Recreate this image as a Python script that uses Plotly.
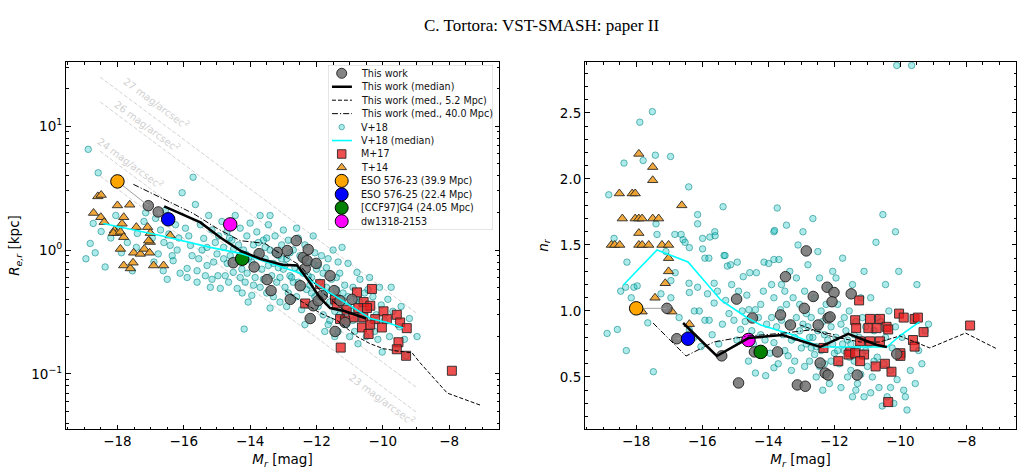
import plotly.graph_objects as go
import numpy as np

# ---------------- data ----------------
# This work (left: Re [kpc], right: n)
tw_left = [(-17.07, 2.28), (-16.77, 2.03), (-14.51, 0.79), (-13.73, 0.935), (-13.88, 0.73),
           (-13.49, 0.577), (-13.37, 0.47), (-13.18, 0.955), (-12.88, 0.99), (-12.61, 1.19),
           (-12.40, 0.87), (-12.34, 0.71), (-12.25, 1.01), (-12.28, 0.82), (-12.01, 0.78),
           (-12.79, 0.40), (-12.10, 0.355), (-12.19, 0.28), (-11.83, 0.43), (-11.59, 0.62),
           (-11.47, 0.47), (-11.29, 0.39), (-11.14, 0.26), (-10.93, 0.40), (-11.44, 0.22),
           (-11.95, 0.39), (-12.49, 0.515)]
tw_right = [(-17.07, 1.02), (-16.77, 0.79), (-14.42, 0.69), (-15.41, 0.66), (-14.90, 0.455),
            (-14.96, 1.09), (-14.48, 0.947), (-13.72, 0.69), (-13.48, 1.26), (-12.85, 1.455),
            (-12.22, 1.18), (-12.01, 1.14), (-11.49, 1.13), (-12.64, 1.11), (-12.07, 1.07),
            (-12.91, 1.02), (-13.33, 0.894), (-12.49, 0.894), (-12.19, 0.947), (-13.63, 0.97),
            (-12.43, 0.606), (-12.28, 0.53), (-12.19, 0.515), (-13.12, 0.44), (-12.88, 0.43),
            (-11.31, 0.515), (-10.11, 0.674), (-12.13, 0.955)]

# This work medians
med_M_left = [-16.59, -15.50, -14.90, -14.30, -13.70, -13.03, -12.58, -12.25, -11.89, -11.59, -11.14, -10.50]
med_R = [2.25, 1.67, 1.26, 0.99, 0.85, 0.76, 0.75, 0.57, 0.41, 0.34, 0.32, 0.28]
med52_M_left = [-12.94, -12.49, -11.89, -11.38, -10.78, -10.38, -9.99, -9.57, -9.12, -8.88, -8.06, -7.07]
med52_R = [0.47, 0.39, 0.31, 0.27, 0.20, 0.175, 0.16, 0.153, 0.148, 0.123, 0.070, 0.056]
med40_M_left = [-17.52, -16.71, -15.71, -14.99, -14.30, -13.55, -13.24, -12.49, -11.89, -11.14]
med40_R = [3.39, 2.66, 1.97, 1.49, 1.19, 1.13, 0.99, 0.75, 0.47, 0.32]

med_M_right = [-16.58, -15.56, -14.60, -13.57, -12.43, -11.58, -10.71, -10.41]
med_n = [0.909, 0.659, 0.795, 0.818, 0.727, 0.826, 0.742, 0.727]
med52_M_right = [-13.03, -12.13, -11.22, -10.62, -10.02, -9.11, -8.03, -7.07]
med52_n = [0.894, 0.81, 0.765, 0.765, 0.811, 0.72, 0.833, 0.712]
med40_M_right = [-17.49, -16.49, -15.65, -14.63, -13.63, -12.73, -11.98]
med40_n = [0.909, 0.659, 0.765, 0.81, 0.83, 0.856, 0.82]

# V+18 medians
v18med_M_left = [-18.43, -16.71, -15.20, -14.30, -13.18, -12.49, -12.10, -11.59, -11.29, -10.90, -10.38, -9.87, -9.39]
v18med_R = [1.64, 1.31, 1.05, 0.94, 0.75, 0.65, 0.55, 0.45, 0.40, 0.34, 0.28, 0.26, 0.235]
v18med_M_right = [-18.39, -17.37, -16.43, -15.44, -14.63, -14.23, -13.24, -12.43, -11.46, -10.41, -10.02, -9.42]
v18med_n = [1.197, 1.462, 1.371, 1.083, 0.947, 0.894, 0.818, 0.727, 0.727, 0.727, 0.811, 0.917]

# V+18 individual galaxies
v18_left = [
    (-18.88, 6.5), (-18.58, 4.2), (-18.73, 1.64), (-18.82, 1.13), (-18.67, 0.95), (-18.49, 1.41), (-18.37, 0.73),
    (-17.88, 0.95), (-17.40, 1.36), (-17.43, 1.05), (-18.95, 0.85), (-18.2, 1.25), (-18.05, 1.9), (-17.7, 1.15),
    (-17.55, 0.68), (-17.2, 1.7), (-17.15, 2.0), (-17.95, 1.5),
    (-16.77, 0.93), (-16.62, 0.68), (-16.41, 1.09), (-16.32, 0.82), (-16.11, 0.65), (-16.95, 1.25), (-16.85, 1.8),
    (-16.7, 1.45), (-16.55, 2.1), (-16.45, 1.35), (-16.25, 1.6), (-16.2, 1.0), (-16.05, 2.9), (-16.9, 0.8),
    (-16.5, 0.58), (-16.15, 1.25), (-16.6, 1.15), (-16.35, 0.9),
    (-15.90, 0.71), (-15.6, 0.55), (-15.6, 0.68), (-15.8, 1.09), (-15.4, 1.24), (-15.2, 0.50), (-15.3, 0.75),
    (-15.0, 0.93), (-15.72, 3.87), (-15.65, 2.33), (-15.95, 1.5), (-15.85, 1.3), (-15.75, 0.9), (-15.5, 1.6),
    (-15.45, 1.0), (-15.35, 0.62), (-15.25, 1.9), (-15.15, 1.45), (-15.1, 0.8), (-15.05, 1.15), (-15.55, 0.85),
    (-15.9, 0.6), (-15.3, 1.05), (-15.15, 0.58),
    (-14.9, 0.49), (-14.69, 0.78), (-14.39, 0.49), (-14.24, 0.45), (-14.06, 0.38), (-14.18, 0.23), (-14.51, 0.66),
    (-14.09, 0.65), (-14.95, 1.3), (-14.85, 1.7), (-14.8, 1.05), (-14.75, 0.62), (-14.7, 1.4), (-14.6, 0.9),
    (-14.55, 1.2), (-14.45, 1.9), (-14.4, 0.8), (-14.35, 1.1), (-14.3, 1.5), (-14.25, 0.7), (-14.2, 1.0),
    (-14.15, 0.55), (-14.1, 1.3), (-14.05, 0.85), (-14.0, 1.65), (-14.97, 0.62), (-14.65, 0.55), (-14.5, 1.02),
    (-14.3, 0.6), (-14.12, 0.92), (-14.8, 0.85), (-14.62, 1.25),
    (-13.7, 0.50), (-13.4, 0.34), (-13.95, 0.8), (-13.9, 1.1), (-13.85, 0.6), (-13.8, 1.4), (-13.75, 0.95),
    (-13.7, 1.9), (-13.65, 0.7), (-13.6, 1.2), (-13.55, 0.85), (-13.5, 0.45), (-13.45, 1.6), (-13.4, 1.0),
    (-13.4, 1.9), (-13.35, 0.62), (-13.3, 0.78), (-13.25, 1.3), (-13.2, 0.55), (-13.15, 0.9), (-13.1, 0.38),
    (-13.05, 1.1), (-13.0, 0.7), (-13.0, 1.45), (-13.9, 0.52), (-13.6, 0.58), (-13.3, 0.42), (-13.15, 0.72),
    (-13.75, 1.15), (-13.55, 1.05), (-13.25, 0.95), (-13.1, 0.6), (-13.45, 0.75), (-13.95, 0.43), (-13.05, 0.85),
    (-13.5, 1.25),
    (-12.95, 0.5), (-12.9, 0.85), (-12.85, 1.2), (-12.8, 0.62), (-12.75, 0.4), (-12.7, 1.0), (-12.65, 0.72),
    (-12.6, 1.5), (-12.55, 0.55), (-12.5, 0.9), (-12.45, 0.33), (-12.4, 0.65), (-12.35, 1.1), (-12.3, 0.48),
    (-12.25, 0.8), (-12.2, 0.28), (-12.15, 0.6), (-12.1, 1.3), (-12.05, 0.42), (-12.0, 0.7), (-12.9, 0.35),
    (-12.8, 0.95), (-12.7, 0.55), (-12.6, 0.42), (-12.5, 0.68), (-12.4, 0.85), (-12.3, 0.36), (-12.2, 0.52),
    (-12.1, 0.78), (-12.05, 0.95), (-12.95, 0.75), (-12.55, 1.25), (-12.35, 0.25), (-12.15, 0.45),
    (-12.75, 0.6), (-12.45, 0.5), (-12.25, 0.62), (-12.85, 0.45),
    (-11.95, 0.35), (-11.9, 0.55), (-11.85, 0.9), (-11.8, 0.3), (-11.75, 0.45), (-11.7, 0.72), (-11.65, 0.25),
    (-11.6, 0.38), (-11.55, 0.58), (-11.5, 1.0), (-11.45, 0.32), (-11.4, 0.48), (-11.35, 0.22), (-11.3, 0.65),
    (-11.25, 0.4), (-11.23, 1.05), (-11.2, 0.28), (-11.15, 0.52), (-11.1, 0.35), (-11.05, 0.78), (-11.0, 0.2),
    (-11.9, 0.42), (-11.8, 0.65), (-11.7, 0.5), (-11.6, 0.27), (-11.5, 0.42), (-11.4, 0.6), (-11.3, 0.3),
    (-11.2, 0.45), (-11.1, 0.25), (-11.95, 0.75), (-11.65, 0.85), (-11.35, 0.8), (-11.05, 0.42), (-11.75, 0.22),
    (-11.45, 0.2),
    (-10.95, 0.32), (-10.9, 0.5), (-10.85, 0.22), (-10.78, 0.66), (-10.75, 0.175), (-10.7, 0.38), (-10.69, 0.58),
    (-10.6, 0.28), (-10.55, 0.45), (-10.5, 0.2), (-10.45, 0.34), (-10.4, 0.6), (-10.35, 0.25), (-10.3, 0.42),
    (-10.2, 0.3), (-10.15, 0.19), (-10.1, 0.5), (-10.05, 0.36), (-10.02, 0.15), (-10.9, 0.27), (-10.65, 0.33),
    (-10.25, 0.22), (-10.8, 0.4), (-10.45, 0.48),
    (-9.95, 0.27), (-9.85, 0.4), (-9.8, 0.2), (-9.7, 0.32), (-9.6, 0.16), (-9.5, 0.24), (-9.45, 0.35),
    (-9.3, 0.14), (-9.2, 0.28), (-8.97, 0.2), (-9.35, 0.19), (-9.75, 0.5)]

v18_right = [
    (-18.83, 1.88), (-18.37, 2.12), (-17.89, 2.43), (-17.51, 2.51), (-17.79, 2.14), (-17.42, 2.18), (-16.96, 2.17),
    (-18.67, 1.55), (-17.37, 1.58), (-17.4, 1.66), (-18.88, 0.83), (-18.57, 0.86), (-18.47, 1.15), (-18.28, 1.37),
    (-18.32, 1.18), (-18.15, 1.10), (-18.07, 1.18), (-17.97, 1.19), (-18.30, 0.70), (-17.65, 0.91), (-17.48, 0.54),
    (-17.25, 1.13), (-17.1, 1.45),
    (-16.41, 1.94), (-16.14, 1.73), (-16.14, 1.66), (-16.83, 1.58), (-16.64, 1.58), (-16.58, 1.54), (-16.52, 1.52),
    (-16.39, 1.48), (-16.95, 1.10), (-16.95, 1.23), (-16.82, 1.29), (-16.40, 1.21), (-16.39, 1.14), (-16.14, 1.18),
    (-16.24, 1.0), (-16.09, 1.0), (-16.04, 0.73), (-16.39, 0.856), (-16.7, 0.95), (-16.25, 0.8),
    (-15.37, 1.79), (-15.62, 1.60), (-15.77, 1.56), (-15.99, 1.55), (-15.99, 1.47), (-15.34, 1.42), (-15.92, 0.93),
    (-15.79, 0.93), (-15.84, 1.13), (-15.92, 1.40), (-15.80, 1.40), (-15.61, 1.57), (-15.31, 1.42), (-15.24, 1.34),
    (-15.14, 1.35), (-15.11, 1.20), (-15.64, 1.21), (-15.54, 1.15), (-15.64, 1.06), (-15.29, 1.08), (-15.19, 0.98),
    (-15.39, 0.90), (-15.04, 0.93), (-15.5, 0.75), (-15.7, 0.82),
    (-14.94, 1.37), (-14.76, 1.26), (-14.56, 1.29), (-14.36, 1.29), (-14.13, 1.37), (-14.79, 1.0), (-14.59, 1.01),
    (-14.39, 1.01), (-14.23, 1.05), (-14.84, 0.86), (-14.23, 0.82), (-14.08, 0.51), (-14.39, 0.53), (-14.9, 1.15),
    (-14.7, 0.92), (-14.5, 0.85), (-14.3, 0.95), (-14.15, 1.15), (-14.05, 0.9), (-14.65, 1.12), (-14.45, 0.75),
    (-14.95, 0.78), (-14.25, 0.7), (-14.6, 0.62), (-14.1, 0.78),
    (-13.99, 1.36), (-13.83, 1.39), (-13.68, 1.39), (-13.83, 1.60), (-13.73, 1.78), (-13.81, 1.61), (-13.83, 1.10),
    (-13.63, 1.01), (-13.83, 0.76), (-13.83, 0.57), (-13.9, 0.95), (-13.75, 0.88), (-13.6, 1.2), (-13.55, 0.82),
    (-13.5, 0.7), (-13.45, 1.05), (-13.4, 0.9), (-13.35, 1.3), (-13.3, 0.78), (-13.25, 1.1), (-13.2, 0.62),
    (-13.15, 0.95), (-13.1, 1.5), (-13.05, 0.85), (-13.0, 0.72), (-13.95, 0.68), (-13.7, 0.6), (-13.5, 1.15),
    (-13.3, 0.55), (-13.15, 1.25), (-13.6, 0.93), (-13.4, 0.66), (-13.05, 1.05), (-13.2, 0.8), (-13.45, 1.65),
    (-13.9, 1.2),
    (-12.95, 0.9), (-12.9, 1.15), (-12.85, 0.75), (-12.8, 1.35), (-12.75, 0.62), (-12.7, 0.95), (-12.65, 0.8),
    (-12.6, 1.1), (-12.55, 0.5), (-12.5, 0.85), (-12.45, 1.25), (-12.4, 0.7), (-12.35, 0.92), (-12.3, 0.6),
    (-12.25, 1.05), (-12.2, 0.78), (-12.15, 0.45), (-12.1, 0.88), (-12.05, 1.3), (-12.0, 0.68), (-12.9, 0.58),
    (-12.7, 0.72), (-12.5, 1.45), (-12.3, 0.82), (-12.1, 0.62), (-12.8, 0.88), (-12.6, 0.67), (-12.4, 1.0),
    (-12.2, 0.95), (-12.05, 0.75), (-12.95, 1.6), (-12.65, 1.7), (-12.35, 0.4), (-12.85, 0.98), (-12.45, 0.58),
    (-12.15, 1.18), (-12.75, 0.8), (-12.55, 0.73),
    (-11.95, 0.8), (-11.9, 1.05), (-11.85, 0.6), (-11.8, 0.9), (-11.75, 1.4), (-11.7, 0.7), (-11.65, 0.85),
    (-11.6, 0.5), (-11.55, 1.0), (-11.5, 0.75), (-11.45, 1.2), (-11.4, 0.62), (-11.35, 0.92), (-11.3, 0.45),
    (-11.25, 0.8), (-11.2, 1.1), (-11.15, 0.68), (-11.1, 0.35), (-11.05, 0.88), (-11.0, 0.58), (-11.9, 0.7),
    (-11.7, 0.95), (-11.5, 0.55), (-11.3, 0.72), (-11.1, 1.3), (-11.8, 0.42), (-11.6, 0.78), (-11.4, 0.82),
    (-11.2, 0.52), (-11.05, 0.7), (-11.95, 1.25), (-11.55, 0.65), (-11.35, 0.4), (-11.15, 0.95), (-11.75, 0.75),
    (-11.45, 0.35),
    (-10.95, 0.75), (-10.9, 1.1), (-10.85, 0.5), (-10.8, 0.85), (-10.74, 1.52), (-10.7, 0.65), (-10.65, 0.42),
    (-10.6, 0.92), (-10.53, 1.73), (-10.5, 0.6), (-10.45, 0.8), (-10.4, 0.35), (-10.35, 1.0), (-10.3, 0.55),
    (-10.25, 0.72), (-10.2, 0.3), (-10.15, 0.88), (-10.1, 0.48), (-10.05, 1.3), (-10.11, 2.86), (-10.0, 0.65),
    (-10.9, 0.38), (-10.7, 0.95), (-10.55, 0.28), (-10.3, 0.42), (-10.15, 1.6), (-10.8, 0.62), (-10.45, 1.2),
    (-9.95, 0.8), (-9.85, 0.35), (-9.8, 0.25), (-9.7, 0.55), (-9.6, 0.95), (-9.55, 0.45), (-9.5, 1.2),
    (-9.45, 0.7), (-9.35, 0.6), (-9.25, 0.85), (-9.66, 2.86), (-9.9, 0.4), (-9.15, 0.9)]

# M+17
m17_left = [(-10.33, 0.485), (-10.78, 0.455), (-11.44, 0.40), (-10.58, 0.38), (-11.39, 0.37), (-11.09, 0.33),
            (-10.74, 0.34), (-10.38, 0.355), (-9.98, 0.32), (-9.58, 0.30), (-11.29, 0.277), (-10.89, 0.286),
            (-10.59, 0.286), (-10.23, 0.277), (-9.88, 0.277), (-9.48, 0.26), (-9.28, 0.234), (-10.03, 0.237),
            (-10.63, 0.237), (-10.43, 0.21), (-9.53, 0.18), (-9.58, 0.158), (-9.30, 0.14), (-11.27, 0.163),
            (-7.92, 0.106), (-11.14, 0.27), (-10.48, 0.34), (-10.38, 0.25), (-11.89, 0.53), (-12.34, 0.37)]
m17_right = [(-11.25, 1.08), (-11.37, 0.93), (-11.34, 0.87), (-10.92, 0.94), (-10.62, 0.94), (-10.97, 0.87),
             (-10.72, 0.87), (-10.42, 0.88), (-10.37, 0.86), (-10.04, 0.98), (-9.90, 0.95), (-9.57, 0.94),
             (-9.47, 0.95), (-9.30, 0.84), (-9.62, 0.78), (-9.57, 0.73), (-10.62, 0.77), (-10.92, 0.77),
             (-11.22, 0.77), (-11.52, 0.69), (-11.88, 0.62), (-11.57, 0.67), (-11.37, 0.68), (-11.10, 0.67),
             (-11.22, 0.62), (-10.75, 0.58), (-10.47, 0.60), (-10.27, 0.54), (-10.00, 0.68), (-10.00, 0.66),
             (-10.37, 0.31), (-7.89, 0.89), (-12.33, 0.72)]

# T+14
t14_left = [(-18.59, 2.71), (-18.49, 2.78), (-18.0, 2.29), (-17.63, 2.32), (-18.72, 1.99), (-18.50, 1.84),
            (-18.40, 1.68), (-17.81, 1.84), (-17.86, 1.63), (-18.09, 1.44), (-18.01, 1.37), (-17.43, 1.53),
            (-17.09, 1.53), (-17.01, 1.37), (-17.01, 1.16), (-16.41, 1.31), (-18.12, 1.37), (-17.91, 1.40),
            (-17.81, 1.27), (-17.06, 1.19), (-17.91, 1.02), (-17.51, 0.95), (-17.31, 0.93), (-17.19, 1.02),
            (-17.03, 0.95), (-17.81, 0.75), (-17.61, 0.71), (-17.53, 0.79), (-16.91, 0.75), (-16.61, 0.75)]
t14_right = [(-18.51, 1.89), (-18.42, 1.70), (-18.12, 1.89), (-18.03, 1.89), (-17.92, 2.19), (-18.03, 1.70),
             (-17.92, 1.70), (-17.82, 1.70), (-17.50, 1.70), (-17.32, 1.70), (-17.92, 1.59), (-17.50, 2.09),
             (-17.50, 1.99), (-16.62, 1.80), (-18.75, 1.50), (-18.65, 1.50), (-18.50, 1.50), (-17.92, 1.50),
             (-17.82, 1.50), (-17.62, 1.50), (-17.22, 1.50), (-17.02, 1.50), (-17.02, 1.40), (-17.02, 1.30),
             (-17.12, 1.21), (-17.43, 1.10), (-17.82, 0.995), (-16.92, 0.995), (-16.39, 0.90)]

# Individual dwarfs
special_names = ["ESO 576-23 (39.9 Mpc)", "ESO 576-25 (22.4 Mpc)", "[CCF97]G4 (24.05 Mpc)", "dw1318-2153"]
special_colors = ["#ffa500", "#0000ff", "#008000", "#ff00ff"]
special_M_left = [-18.0, -16.47, -14.24, -14.6]
special_R = [3.58, 1.77, 0.85, 1.61]
special_M_right = [-18.0, -16.43, -14.23, -14.6]
special_n = [1.02, 0.79, 0.69, 0.78]
special_match = [0, 1, 2, None]   # index of the matching "This work" point

# Constant surface-brightness lines (mag/arcsec^2): end points
sb_levels = [27, 26, 24, 23]
sb_M = [-18.52, -8.97]
sb_R_start = [24.9, 15.7, 6.27, 3.95]
sb_R_end = [0.307, 0.194, 0.0771, 0.0486]
sb_label_M = [-16.83, -17.10, -17.61, -10.02]
sb_label_R = [15.3, 10.0, 5.0, 0.0627]

legend_labels = ["This work", "This work (median)", "This work (med., 5.2 Mpc)", "This work (med., 40.0 Mpc)",
                 "V+18", "V+18 (median)", "M+17", "T+14"] + special_names

# ---------------- styles ----------------
FONT = "DejaVu Sans"
C_V18 = dict(color="rgba(0,191,191,0.32)", line=dict(color="rgba(0,128,128,0.55)", width=1))
C_TW = dict(color="rgba(110,110,110,0.85)", line=dict(color="rgba(30,30,30,0.9)", width=1))
C_M17 = dict(color="rgba(235,30,30,0.78)", line=dict(color="rgba(40,40,40,0.9)", width=1))
C_T14 = dict(color="rgba(240,160,40,0.9)", line=dict(color="rgba(40,40,40,0.9)", width=1))
DASH = "4px,2px"
DASHDOT = "6px,2px,1.2px,2px"

fig = go.Figure()


def unzip(pairs):
    return [p[0] for p in pairs], [p[1] for p in pairs]


def add_panel(xa, ya, right):
    if not right:
        for i, lev in enumerate(sb_levels):
            fig.add_trace(go.Scatter(x=sb_M, y=[sb_R_start[i], sb_R_end[i]], mode="lines",
                                     line=dict(color="#d3d3d3", width=1, dash="4px,2px"),
                                     xaxis=xa, yaxis=ya, showlegend=False, hoverinfo="skip"))
    vx, vy = unzip(v18_right if right else v18_left)
    fig.add_trace(go.Scatter(x=vx, y=vy, mode="markers", marker=dict(size=6.5, symbol="circle", **C_V18),
                             xaxis=xa, yaxis=ya, showlegend=False))
    tx, ty = unzip(t14_right if right else t14_left)
    fig.add_trace(go.Scatter(x=tx, y=ty, mode="markers", marker=dict(size=9, symbol="triangle-up", **C_T14),
                             xaxis=xa, yaxis=ya, showlegend=False))
    mx, my = unzip(m17_right if right else m17_left)
    fig.add_trace(go.Scatter(x=mx, y=my, mode="markers", marker=dict(size=9, symbol="square", **C_M17),
                             xaxis=xa, yaxis=ya, showlegend=False))
    tw = tw_right if right else tw_left
    gx, gy = unzip(tw)
    fig.add_trace(go.Scatter(x=gx, y=gy, mode="markers", marker=dict(size=10.5, symbol="circle", **C_TW),
                             xaxis=xa, yaxis=ya, showlegend=False))
    sM = special_M_right if right else special_M_left
    sV = special_n if right else special_R
    for i in range(len(special_names)):
        j = special_match[i]
        if j is not None:
            fig.add_trace(go.Scatter(x=[sM[i], tw[j][0]], y=[sV[i], tw[j][1]], mode="lines",
                                     line=dict(color="#a0a0a0", width=1), xaxis=xa, yaxis=ya,
                                     showlegend=False, hoverinfo="skip"))
    for i in range(len(special_names)):
        fig.add_trace(go.Scatter(x=[sM[i]], y=[sV[i]], mode="markers",
                                 marker=dict(size=13.5, color=special_colors[i], line=dict(color="black", width=1)),
                                 xaxis=xa, yaxis=ya, showlegend=False))
    if right:
        lines = [(v18med_M_right, v18med_n, dict(color="#00ffff", width=1.6)),
                 (med52_M_right, med52_n, dict(color="black", width=1, dash=DASH)),
                 (med40_M_right, med40_n, dict(color="black", width=1, dash=DASHDOT)),
                 (med_M_right, med_n, dict(color="black", width=2.5))]
    else:
        lines = [(v18med_M_left, v18med_R, dict(color="#00ffff", width=1.6)),
                 (med52_M_left, med52_R, dict(color="black", width=1, dash=DASH)),
                 (med40_M_left, med40_R, dict(color="black", width=1, dash=DASHDOT)),
                 (med_M_left, med_R, dict(color="black", width=2.5))]
    for lx, ly, st in lines:
        fig.add_trace(go.Scatter(x=lx, y=ly, mode="lines", line=st, xaxis=xa, yaxis=ya,
                                 showlegend=False, hoverinfo="skip"))


add_panel("x", "y", False)
add_panel("x2", "y2", True)

# ---------------- legend (drawn on its own small axis) ----------------
fig.add_trace(go.Scatter(x=[0, 1, 1, 0, 0], y=[0, 0, 1, 1, 0], mode="lines", fill="toself",
                         fillcolor="rgba(255,255,255,0.85)", line=dict(color="#cccccc", width=1),
                         xaxis="x3", yaxis="y3", showlegend=False, hoverinfo="skip"))
ys = [1 - (8.3 + 13.45 * i) / 165.0 for i in range(len(legend_labels))]
mk_x = 0.083
ln_x = [0.024, 0.145]


def leg_marker(i, **m):
    fig.add_trace(go.Scatter(x=[mk_x], y=[ys[i]], mode="markers", marker=m, xaxis="x3", yaxis="y3",
                             showlegend=False, hoverinfo="skip"))


def leg_line(i, **l):
    fig.add_trace(go.Scatter(x=ln_x, y=[ys[i], ys[i]], mode="lines", line=l, xaxis="x3", yaxis="y3",
                             showlegend=False, hoverinfo="skip"))


leg_marker(0, size=10, symbol="circle", **C_TW)
leg_line(1, color="black", width=2.5)
leg_line(2, color="black", width=1, dash=DASH)
leg_line(3, color="black", width=1, dash=DASHDOT)
leg_marker(4, size=5.5, symbol="circle", **C_V18)
leg_line(5, color="#00ffff", width=1.6)
leg_marker(6, size=8.5, symbol="square", **C_M17)
leg_marker(7, size=8.5, symbol="triangle-up", **C_T14)
for k in range(4):
    leg_marker(8 + k, size=13, color=special_colors[k], line=dict(color="black", width=1))

annotations = []
for i, lab in enumerate(legend_labels):
    annotations.append(dict(x=0.19, y=ys[i], xref="x3", yref="y3", text=lab, showarrow=False,
                            xanchor="left", yanchor="middle", font=dict(family=FONT, size=9.6, color="#111")))

for i, lev in enumerate(sb_levels):
    annotations.append(dict(x=sb_label_M[i], y=np.log10(sb_label_R[i]), xref="x", yref="y",
                            text=f"{lev} mag/arcsec<sup>2</sup>", showarrow=False, textangle=36.7,
                            font=dict(family=FONT, size=10, color="#d0d0d0")))

annotations.append(dict(x=0.5, y=(429 - 14) / 367.0, xref="paper", yref="paper",
                        text="C. Tortora: VST-SMASH: paper II", showarrow=False,
                        font=dict(family="Liberation Serif, Times New Roman, serif", size=17, color="black")))

axis_common = dict(ticks="inside", ticklen=4.5, tickwidth=1, tickcolor="black", showline=True, linecolor="black",
                   linewidth=1, mirror="allticks", showgrid=False, zeroline=False,
                   tickfont=dict(family=FONT, size=13.5, color="black"))

xticks = [-18, -16, -14, -12, -10, -8]
xminor = dict(ticks="inside", ticklen=2.5, tickcolor="black", dtick=0.5, tick0=-20)
TFONT = dict(family=FONT, size=13.5, color="black")
xtitle = dict(text="<i>M</i><sub><i>r</i></sub> [mag]", font=TFONT, standoff=6)

logminor = [a * 10 ** e for e in (-2, -1, 0, 1) for a in range(2, 10)]

fig.update_layout(
    width=1024, height=472, margin=dict(l=66, r=8, t=62, b=43),
    paper_bgcolor="white", plot_bgcolor="white", showlegend=False,
    xaxis=dict(domain=[0, 0.45579], range=[-19.55, -6.5], tickmode="array", tickvals=xticks,
               minor=xminor, title=xtitle, anchor="y", **axis_common),
    yaxis=dict(type="log", range=[-1.445, 1.518], tickmode="array", tickvals=[0.1, 1, 10],
               ticktext=["10<sup>−1</sup>", "10<sup>0</sup>", "10<sup>1</sup>"],
               minor=dict(ticks="inside", ticklen=2.5, tickcolor="black", tickmode="array", tickvals=logminor),
               title=dict(text="<i>R</i><sub><i>e,r</i></sub> [kpc]", font=TFONT, standoff=8),
               anchor="x", **axis_common),
    xaxis2=dict(domain=[0.54632, 1.0], range=[-19.55, -6.5], tickmode="array", tickvals=xticks,
                minor=xminor, title=xtitle, anchor="y2", **axis_common),
    yaxis2=dict(range=[0.106, 2.886], tickmode="linear", tick0=0.5, dtick=0.5, tickformat=".1f",
                minor=dict(ticks="inside", ticklen=2.5, tickcolor="black", dtick=0.1, tick0=0),
                title=dict(text="<i>n</i><sub><i>r</i></sub>", font=TFONT, standoff=8),
                anchor="x2", **axis_common),
    xaxis3=dict(domain=[0.27579, 0.44947], range=[0, 1], visible=False, anchor="y3", fixedrange=True),
    yaxis3=dict(domain=[0.54223, 0.99183], range=[0, 1], visible=False, anchor="x3", fixedrange=True),
    annotations=annotations,
)

fig.write_html("out.html")
